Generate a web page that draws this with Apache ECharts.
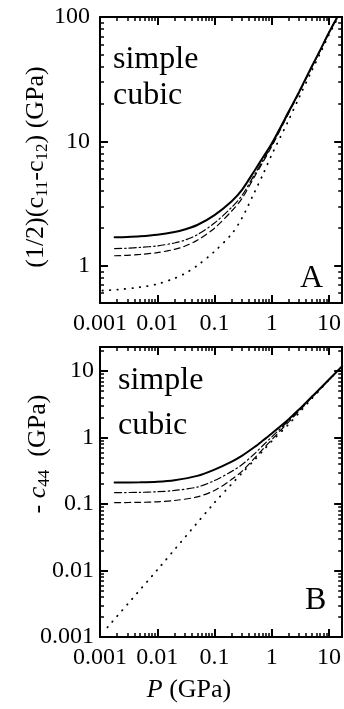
<html>
<head>
<meta charset="utf-8">
<title>simple cubic</title>
<script src="https://cdn.jsdelivr.net/npm/echarts@6/dist/echarts.min.js"></script>
<style>
html, body { margin: 0; padding: 0; background: #fff; }
#chart { width: 344px; height: 709px; }
</style>
</head>
<body>
<div id="chart"></div>
<script>
// pressure axis (GPa)
var pRange = [0.001, 17];
var xMajor = [0.001, 0.01, 0.1, 1, 10];

// panel A : (1/2)(c11-c12)
var aRange = [0.5, 100];
var aMajor = [1, 10, 100];
var pA = [0.0018, 0.003, 0.005, 0.01, 0.02, 0.03, 0.05, 0.1, 0.2, 0.3, 0.5, 0.7, 1, 2, 3, 5, 7, 10, 14];
var aSolid   = [1.69, 1.70, 1.72, 1.77, 1.86, 1.95, 2.12, 2.55, 3.3, 4.05, 5.8, 7.4, 9.6, 17.5, 25, 40, 54, 75, 100];
var aDashDot = [1.37, 1.38, 1.40, 1.44, 1.52, 1.60, 1.77, 2.2, 2.95, 3.65, 5.4, 7.0, 9.3, 17.2, 24.7, 39.7, 53.7, 75, 100];
var aDashed  = [1.20, 1.21, 1.23, 1.27, 1.35, 1.43, 1.60, 2.0, 2.75, 3.45, 5.2, 6.8, 9.1, 17.0, 24.5, 39.5, 53.5, 75, 100];
var pAdot = [0.0011, 0.002, 0.005, 0.01, 0.02, 0.03, 0.05, 0.1, 0.2, 0.3, 0.5, 0.7, 1, 2, 3, 5, 7, 10, 14.5];
var aDotted  = [0.63, 0.64, 0.67, 0.71, 0.79, 0.86, 1.0, 1.3, 1.8, 2.4, 3.9, 5.4, 7.8, 15, 22.5, 37, 51, 72, 100];

// panel B : -c44
var bRange = [0.001, 23];
var bMajor = [0.001, 0.01, 0.1, 1, 10];
var pB = [0.0018, 0.005, 0.01, 0.02, 0.05, 0.1, 0.2, 0.3, 0.5, 0.7, 1, 2, 3, 5, 7, 10, 15, 17];
var bSolid   = [0.21, 0.212, 0.216, 0.228, 0.265, 0.33, 0.435, 0.53, 0.72, 0.9, 1.15, 1.9, 2.65, 4.1, 5.45, 7.45, 10.6, 11.8];
var bDashDot = [0.148, 0.15, 0.153, 0.16, 0.18, 0.225, 0.31, 0.39, 0.57, 0.76, 1.02, 1.82, 2.57, 4.05, 5.42, 7.45, 10.6, 11.8];
var bDashed  = [0.105, 0.106, 0.108, 0.113, 0.128, 0.16, 0.235, 0.31, 0.49, 0.67, 0.93, 1.74, 2.5, 4.0, 5.4, 7.45, 10.6, 11.8];
var pBdot = [0.00135, 0.01, 0.1, 0.2, 0.3, 0.5, 0.7, 1, 2, 3, 5, 7, 10, 15, 17];
var bDotted  = [0.0014, 0.0102, 0.105, 0.2, 0.29, 0.46, 0.63, 0.88, 1.6, 2.35, 3.85, 5.25, 7.4, 10.5, 11.7];

var FONT = "'Liberation Serif','DejaVu Serif',serif";

// minor ticks 2..9 of every decade inside a range
function minors(range) {
    var out = [];
    for (var e = -4; e <= 3; e++) {
        for (var k = 2; k <= 9; k++) {
            var v = parseFloat((k * Math.pow(10, e)).toPrecision(6));
            if (v > range[0] && v < range[1]) out.push(v);
        }
    }
    return out;
}

function pairs(xs, ys) {
    return xs.map(function (x, i) { return [x, ys[i]]; });
}

function axis(grid, pos, range, ticks, len, line, labels, margin) {
    return {
        type: 'log',
        logBase: 10,
        gridIndex: grid,
        position: pos,
        min: range[0],
        max: range[1],
        axisLine: { show: line, onZero: false, lineStyle: { color: '#000', width: 2 } },
        axisTick: { show: true, inside: true, length: len, customValues: ticks,
            lineStyle: { color: '#000', width: len > 5 ? 2 : 1.5 } },
        axisLabel: labels ? {
            show: true, customValues: labels, margin: margin,
            color: '#000', fontFamily: FONT, fontSize: 24,
            formatter: function (v) { return String(v); }
        } : { show: false },
        splitLine: { show: false },
        minorTick: { show: false }
    };
}

// per grid: frame axes carry every tick (short), extra axes carry the long decade ticks
var xAll = xMajor.concat(minors(pRange));
var xAxes = [];
var yAxes = [];
[0, 1].forEach(function (g) {
    xAxes.push(axis(g, 'bottom', pRange, xAll, 4, true, xMajor, 9));
    xAxes.push(axis(g, 'top', pRange, xAll, 4, true, null));
    xAxes.push(axis(g, 'bottom', pRange, xMajor, 8, false, null));
    xAxes.push(axis(g, 'top', pRange, xMajor, 8, false, null));
});
[[aRange, aMajor, 10], [bRange, bMajor, 6]].forEach(function (d, g) {
    var all = d[1].concat(minors(d[0]));
    yAxes.push(axis(g, 'left', d[0], all, 4, true, d[1], d[2]));
    yAxes.push(axis(g, 'right', d[0], all, 4, true, null));
    yAxes.push(axis(g, 'left', d[0], d[1], 8, false, null));
    yAxes.push(axis(g, 'right', d[0], d[1], 8, false, null));
});

function line(name, data, idx, width, dash) {
    return {
        name: name, type: 'line', data: data,
        xAxisIndex: idx, yAxisIndex: idx,
        symbol: 'none', smooth: 0.3,
        lineStyle: { color: '#000', width: width, type: dash, cap: 'round' },
        z: 3
    };
}

function label(text, x, y, size) {
    return {
        type: 'text', x: x, y: y,
        style: { text: text, fill: '#000', fontFamily: FONT, fontSize: size,
            align: 'left', verticalAlign: 'middle' }
    };
}

var rich = {
    s: { fontSize: 17, fontFamily: FONT, lineHeight: 14, verticalAlign: 'bottom', fill: '#000' },
    i: { fontSize: 26, fontFamily: FONT, fontStyle: 'italic', lineHeight: 30, fill: '#000' }
};

var chart = echarts.init(document.getElementById('chart'));
chart.setOption({
    animation: false,
    backgroundColor: '#fff',
    grid: [
        { left: 100, top: 17, right: 0, height: 286 },
        { left: 100, top: 347, right: 0, height: 290 }
    ],
    xAxis: xAxes,
    yAxis: yAxes,
    series: [
        line('solid A', pairs(pA, aSolid), 0, 2, 'solid'),
        line('dash-dot A', pairs(pA, aDashDot), 0, 1.2, [7, 3, 1.5, 3]),
        line('dashed A', pairs(pA, aDashed), 0, 1.2, [6, 4]),
        line('dotted A', pairs(pAdot, aDotted), 0, 1.8, [0.5, 7]),
        line('solid B', pairs(pB, bSolid), 4, 2, 'solid'),
        line('dash-dot B', pairs(pB, bDashDot), 4, 1.2, [7, 3, 1.5, 3]),
        line('dashed B', pairs(pB, bDashed), 4, 1.2, [6, 4]),
        line('dotted B', pairs(pBdot, bDotted), 4, 1.8, [0.5, 7])
    ],
    graphic: [
        label('simple', 113, 60, 32),
        label('cubic', 113, 96, 32),
        label('A', 300, 279, 32),
        label('simple', 118, 381, 32),
        label('cubic', 118, 426, 32),
        label('B', 305, 601, 32),
        {
            type: 'text', x: 36, y: 167, rotation: Math.PI / 2,
            style: { text: '(1/2)(c{s|11}-c{s|12}) (GPa)', rich: rich, fill: '#000',
                fontFamily: FONT, fontSize: 26, lineHeight: 30, align: 'center', verticalAlign: 'middle' }
        },
        {
            type: 'text', x: 38, y: 454, rotation: Math.PI / 2,
            style: { text: '- {i|c}{s|44}  (GPa)', rich: rich, fill: '#000',
                fontFamily: FONT, fontSize: 26, lineHeight: 30, align: 'center', verticalAlign: 'middle' }
        },
        {
            type: 'text', x: 189, y: 690,
            style: { text: '{i|P} (GPa)', rich: rich, fill: '#000',
                fontFamily: FONT, fontSize: 26, lineHeight: 30, align: 'center', verticalAlign: 'middle' }
        }
    ]
});
</script>
</body>
</html>
